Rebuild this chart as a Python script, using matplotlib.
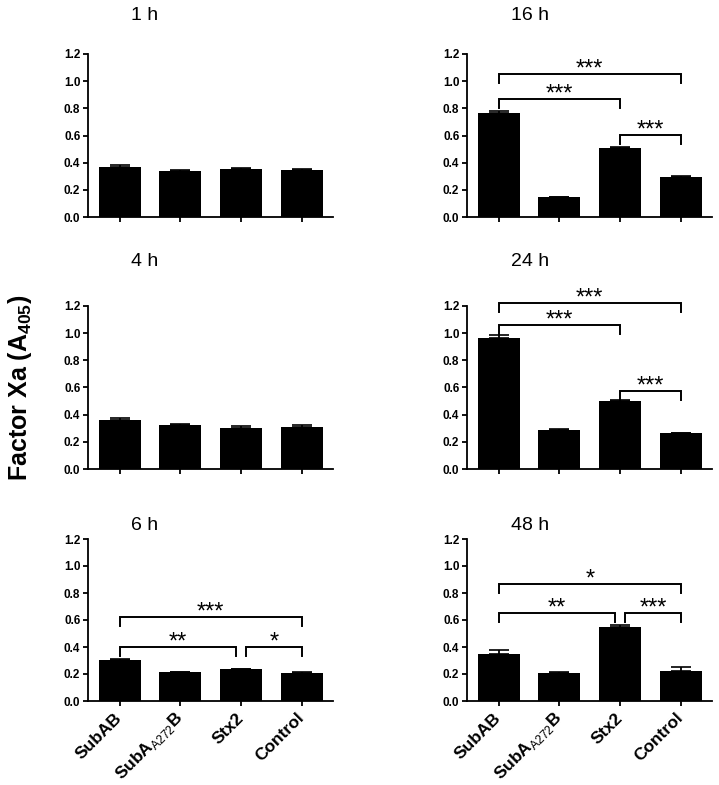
import matplotlib
matplotlib.use('Agg')
import matplotlib.pyplot as plt
import numpy as np

plt.rcParams['font.family'] = ['Liberation Sans', 'DejaVu Sans']
plt.rcParams['mathtext.fontset'] = 'custom'
plt.rcParams['mathtext.rm'] = 'Liberation Sans'
plt.rcParams['mathtext.bf'] = 'Liberation Sans:bold'

# ------------------ DATA ------------------ #
groups = ['SubAB', r'SubA$_{\mathrm{A272}}$B', 'Stx2', 'Control']
panels = ['1 h', '16 h', '4 h', '24 h', '6 h', '48 h']

mean_1h = [0.367, 0.338, 0.353, 0.345]
err_1h = [0.013, 0.008, 0.006, 0.007]
mean_4h = [0.363, 0.321, 0.302, 0.309]
err_4h = [0.012, 0.012, 0.012, 0.012]
mean_6h = [0.306, 0.212, 0.235, 0.210]
err_6h = [0.008, 0.005, 0.003, 0.003]
mean_16h = [0.769, 0.147, 0.507, 0.296]
err_16h = [0.008, 0.003, 0.008, 0.007]
mean_24h = [0.967, 0.286, 0.503, 0.264]
err_24h = [0.020, 0.006, 0.004, 0.003]
mean_48h = [0.348, 0.210, 0.548, 0.222]
err_48h = [0.030, 0.005, 0.012, 0.030]

# significance brackets: (left group, right group, height, label)
sig_16h = [(0, 3, 1.053, '***'), (0, 2, 0.867, '***'), (2, 3, 0.605, '***')]
sig_24h = [(0, 3, 1.220, '***'), (0, 2, 1.060, '***'), (2, 3, 0.572, '***')]
sig_6h = [(0, 3, 0.620, '***'), (0, 2, 0.402, '**'), (2, 3, 0.402, '*')]
sig_48h = [(0, 3, 0.864, '*'), (0, 2, 0.649, '**'), (2, 3, 0.649, '***')]

yticks = [0.0, 0.2, 0.4, 0.6, 0.8, 1.0, 1.2]

W, H = 719, 785
fig = plt.figure(figsize=(W / 100, H / 100), dpi=100)


def px_axes(x0, y0, x1, y1):
    # axes from pixel box (top-left origin)
    return fig.add_axes([x0 / W, 1 - y1 / H, (x1 - x0) / W, (y1 - y0) / H])


def draw_sig(ax, sig):
    arm = 0.065
    for a, b, y, label in sig:
        xa, xb = a, b
        # shrink brackets that share an end at the same height
        for c, d, y2, _ in sig:
            if y2 == y and (c, d) != (a, b):
                if d == a:
                    xa += 0.08
                if c == b:
                    xb -= 0.08
        ax.plot([xa, xa, xb, xb], [y - arm, y, y, y - arm], color='black',
                lw=1.4, clip_on=False, solid_joinstyle='miter')
        ax.text((xa + xb) / 2, y - 0.012, label, ha='center', va='baseline',
                fontsize=17, clip_on=False)


def draw_panel(ax, means, errs, title, title_x, title_y, sig=None, labels=False):
    x = np.arange(len(means))
    ax.bar(x, means, width=0.69, color='black', zorder=2)
    ax.errorbar(x, means, yerr=[np.zeros(len(errs)), errs], fmt='none',
                ecolor='black', elinewidth=1.3, capsize=7, capthick=1.2, zorder=3)
    ax.set_xlim(-0.52, 3.51)
    ax.set_ylim(0, 1.2)
    ax.set_yticks(yticks)
    ax.set_yticklabels(['%.1f' % t for t in yticks], fontsize=8.5, fontweight='bold')
    ax.set_xticks(x)
    for s in ['top', 'right']:
        ax.spines[s].set_visible(False)
    for s in ['left', 'bottom']:
        ax.spines[s].set_linewidth(1.3)
    ax.tick_params(axis='both', direction='out', length=3.5, width=1.3, pad=2)
    if labels:
        ax.set_xticklabels(groups, rotation=45, ha='right', va='center',
                           rotation_mode='anchor', fontsize=12.5, fontweight='bold')
        ax.tick_params(axis='x', pad=7)
    else:
        ax.set_xticklabels([])
    if sig:
        draw_sig(ax, sig)
    fig.text(title_x / W, 1 - title_y / H, title, ha='center', va='center',
             fontsize=14)


ax1 = px_axes(88, 54, 333, 217)
ax2 = px_axes(467, 54, 712, 217)
ax3 = px_axes(88, 306, 333, 469)
ax4 = px_axes(467, 306, 712, 469)
ax5 = px_axes(88, 539, 333, 701)
ax6 = px_axes(467, 539, 712, 701)

draw_panel(ax1, mean_1h, err_1h, panels[0], 145, 15)
draw_panel(ax2, mean_16h, err_16h, panels[1], 530, 15, sig=sig_16h)
draw_panel(ax3, mean_4h, err_4h, panels[2], 145, 262)
draw_panel(ax4, mean_24h, err_24h, panels[3], 530, 262, sig=sig_24h)
draw_panel(ax5, mean_6h, err_6h, panels[4], 145, 525, sig=sig_6h, labels=True)
draw_panel(ax6, mean_48h, err_48h, panels[5], 530, 525, sig=sig_48h, labels=True)

fig.text(20 / W, 1 - 388 / H, r'Factor Xa (A$_{\mathbf{405}}$)', rotation=90,
         ha='center', va='center', fontsize=18, fontweight='bold')

fig.savefig('out.png', dpi=100)
